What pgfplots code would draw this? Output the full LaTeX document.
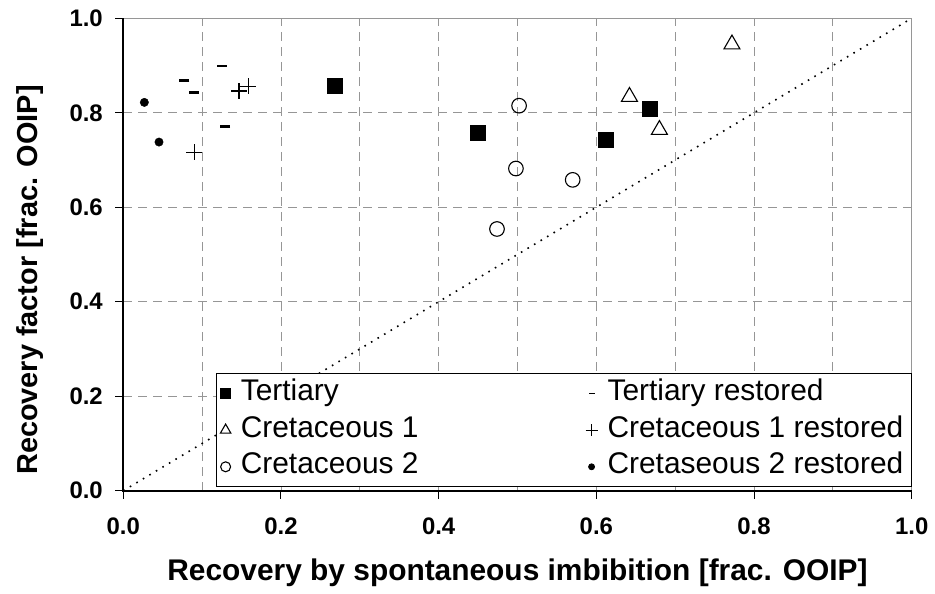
\documentclass[border=0pt]{standalone}
\usepackage{fontspec}
\setmainfont{Liberation Sans}
\usepackage{pgfplots}
\pgfplotsset{compat=1.18}
\definecolor{gridgray}{RGB}{150,150,150}
\begin{document}
\begin{tikzpicture}[x=1bp,y=1bp]
\useasboundingbox (-123.3bp,-103.3bp) rectangle (811.7bp,490.7bp);
\begin{axis}[
  scale only axis,
  width=788.4bp, height=472.4bp,
  xmin=0, xmax=1, ymin=0, ymax=1,
  xtick={0,0.2,0.4,0.6,0.8,1.0},
  ytick={0,0.2,0.4,0.6,0.8,1.0},
  minor x tick num=1,
  xmajorgrids, xminorgrids, ymajorgrids,
  major grid style={gridgray, line width=0.9bp, dash pattern=on 9bp off 6bp},
  minor grid style={gridgray, line width=0.9bp, dash pattern=on 9bp off 6bp},
  minor tick length=0pt,
  major tick length=8bp,
  tick align=outside,
  xtick pos=left, ytick pos=left,
  tick style={black, line width=1bp},
  axis line style={gridgray, line width=1bp},
  /pgf/number format/assume math mode=true,
  /pgf/number format/fixed, /pgf/number format/fixed zerofill, /pgf/number format/precision=1,
  tick label style={font=\bfseries\fontsize{24}{26}\selectfont},
  xticklabel style={yshift=-16bp},
  yticklabel style={xshift=-9bp},
  xlabel={Recovery by spontaneous imbibition [frac. OOIP]},
  ylabel={Recovery factor [frac. OOIP]},
  xlabel style={font=\bfseries\fontsize{30}{32}\selectfont, at={(axis description cs:0.5,0)}, anchor=center, yshift=-82bp},
  ylabel style={font=\bfseries\fontsize{29}{31}\selectfont, at={(axis description cs:-0.118,0.446)}, anchor=center},
  legend columns=2,
  legend cell align=left,
  legend style={at={(rel axis cs:1,0)}, anchor=south east, yshift=4bp,
    draw=black, line width=0.8bp, fill=white,
    font=\fontsize{30}{32}\selectfont,
    inner xsep=4bp, inner ysep=3.5bp,
    row sep=4.7bp,
    nodes={text height=22bp, text depth=8bp, inner ysep=1bp, inner xsep=4bp},
    /tikz/every odd column/.append style={column sep=6bp},
    /tikz/every even column/.append style={column sep=163bp}},
  clip=false,
]
% diagonal
\addplot[forget plot, black, line width=1.6bp, dash pattern=on 1.6bp off 6bp] coordinates {(0,0) (1,1)};
% Tertiary
\addplot[only marks, mark=square*, mark size=5.5bp, black, fill=black,
  mark size=7.5bp, legend image post style={mark size=5bp}] coordinates {
  (0.268,0.858) (0.450,0.758) (0.612,0.742) (0.668,0.808)};
\addlegendentry{Tertiary}
% Tertiary restored
\addplot[only marks, mark=-, mark size=5bp, black, line width=2.6bp,
  legend image post style={mark size=3bp, line width=1.6bp}] coordinates {
  (0.0774,0.868) (0.0893,0.8425) (0.125,0.899) (0.129,0.771)};
\addlegendentry{Tertiary restored}
% Cretaceous 1
\addplot[only marks, mark=triangle, mark size=9.2bp, black, line width=1.1bp,
  legend image post style={mark size=6bp}] coordinates {
  (0.642,0.834) (0.680,0.764) (0.772,0.945)};
\addlegendentry{Cretaceous 1}
% Cretaceous 1 restored
\addplot[only marks, mark=+, mark size=8bp, black, line width=1.1bp,
  legend image post style={mark size=6bp}] coordinates {
  (0.090,0.716) (0.1468,0.846) (0.1586,0.856)};
\addlegendentry{Cretaceous 1 restored}
% Cretaceous 2
\addplot[only marks, mark=o, mark size=7.3bp, black, line width=1.1bp,
  legend image post style={mark size=5bp}] coordinates {
  (0.502,0.815) (0.498,0.682) (0.570,0.658) (0.474,0.554)};
\addlegendentry{Cretaceous 2}
% Cretaseous 2 restored
\addplot[only marks, mark=*, mark size=4.2bp, black,
  legend image post style={mark size=3bp}] coordinates {
  (0.0267,0.822) (0.0453,0.738)};
\addlegendentry{Cretaseous 2 restored}
\draw[black, line width=1.6bp] (rel axis cs:0,1) -- (rel axis cs:0,0) -- (rel axis cs:1,0);
\end{axis}
\end{tikzpicture}
\end{document}
